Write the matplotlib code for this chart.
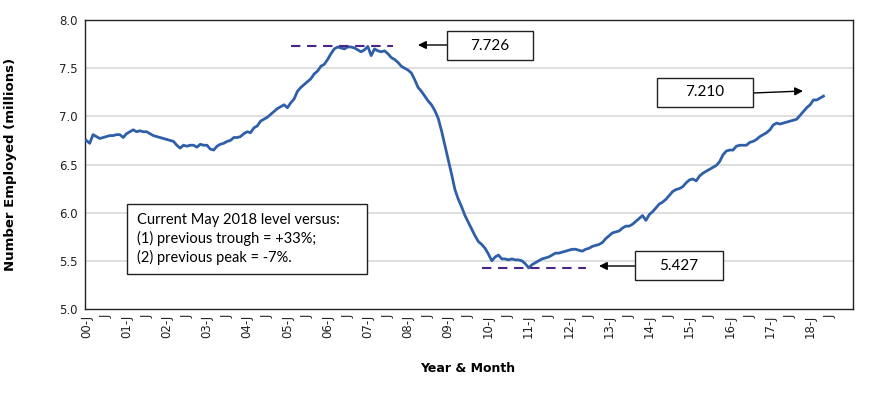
import matplotlib
matplotlib.use("Agg")
import matplotlib.pyplot as plt
from matplotlib.patches import Rectangle
import numpy as np

# monthly employment (millions), Jan 2000 .. May 2018
employed = [
    6.75, 6.72, 6.81, 6.79, 6.77, 6.78, 6.79, 6.80, 6.80, 6.81, 6.81, 6.78,  # 2000
    6.82, 6.84, 6.86, 6.84, 6.85, 6.84, 6.84, 6.82, 6.80, 6.79, 6.78, 6.77,  # 2001
    6.76, 6.75, 6.74, 6.70, 6.67, 6.70, 6.69, 6.70, 6.70, 6.68, 6.71, 6.70,  # 2002
    6.70, 6.66, 6.65, 6.69, 6.71, 6.72, 6.74, 6.75, 6.78, 6.78, 6.79, 6.82,  # 2003
    6.84, 6.83, 6.88, 6.90, 6.95, 6.97, 6.99, 7.02, 7.05, 7.08, 7.10, 7.12,  # 2004
    7.09, 7.14, 7.18, 7.26, 7.30, 7.33, 7.36, 7.39, 7.44, 7.47, 7.52, 7.54,  # 2005
    7.59, 7.65, 7.70, 7.72, 7.71, 7.70, 7.72, 7.72, 7.71, 7.69, 7.67, 7.69,  # 2006
    7.726, 7.63, 7.70, 7.68, 7.67, 7.68, 7.65, 7.61, 7.59, 7.56, 7.52, 7.50,  # 2007
    7.48, 7.45, 7.38, 7.30, 7.26, 7.21, 7.16, 7.12, 7.06, 6.98, 6.85, 6.70,  # 2008
    6.55, 6.40, 6.24, 6.14, 6.06, 5.97, 5.90, 5.83, 5.76, 5.70, 5.67, 5.63,  # 2009
    5.57, 5.50, 5.54, 5.56, 5.52, 5.52, 5.51, 5.52, 5.51, 5.51, 5.50, 5.47,  # 2010
    5.427, 5.46, 5.48, 5.50, 5.52, 5.53, 5.54, 5.56, 5.58, 5.58, 5.59, 5.60,  # 2011
    5.61, 5.62, 5.62, 5.61, 5.60, 5.62, 5.63, 5.65, 5.66, 5.67, 5.69, 5.73,  # 2012
    5.76, 5.79, 5.80, 5.81, 5.84, 5.86, 5.86, 5.88, 5.91, 5.94, 5.97, 5.92,  # 2013
    5.98, 6.01, 6.05, 6.09, 6.11, 6.14, 6.18, 6.22, 6.24, 6.25, 6.27, 6.31,  # 2014
    6.34, 6.35, 6.33, 6.38, 6.41, 6.43, 6.45, 6.47, 6.49, 6.53, 6.60, 6.64,  # 2015
    6.65, 6.65, 6.69, 6.70, 6.70, 6.70, 6.73, 6.74, 6.76, 6.79, 6.81, 6.83,  # 2016
    6.86, 6.91, 6.93, 6.92, 6.93, 6.94, 6.95, 6.96, 6.97, 7.01, 7.05, 7.09,  # 2017
    7.12, 7.17, 7.17, 7.19, 7.210,                                           # 2018
]

tick_labels = []
for yr in range(0, 19):
    tick_labels += ["%02d-J" % yr, "J"]

peak_span = [61, 91.5]      # months covered by dashed peak line
trough_span = [118, 149]    # months covered by dashed trough line

note_text = ("Current May 2018 level versus:\n"
             "(1) previous trough = +33%;\n"
             "(2) previous peak = -7%.")

W, H = 870, 398
fig = plt.figure(figsize=(W / 100, H / 100), dpi=100)
ax = fig.add_axes([85 / W, 1 - 309 / H, (853 - 85) / W, (309 - 20) / H])

months = np.arange(len(employed))
vals = np.array(employed)
peak = vals.max()
trough = vals.min()
latest = vals[-1]

for v in [5.5, 6.0, 6.5, 7.0, 7.5]:
    ax.axhline(v, color="#d9d9d9", lw=1.2, zorder=0)

ax.plot(months, vals, color="#2f5fa8", lw=2.0, zorder=3, solid_joinstyle="round")

purple = "#4b2585"
ax.plot(peak_span, [peak, peak], color=purple, lw=1.5, ls=(0, (4.5, 3.2)), zorder=4)
ax.plot(trough_span, [trough, trough], color=purple, lw=1.5, ls=(0, (4.5, 3.2)), zorder=4)

ax.set_xlim(-0.4, 228.8)
ax.set_ylim(5.0, 8.0)
ax.set_yticks(np.arange(5.0, 8.01, 0.5))
ax.set_yticklabels(["%.1f" % t for t in np.arange(5.0, 8.01, 0.5)])
ax.set_xticks(np.arange(0, 6 * len(tick_labels), 6))
ax.set_xticklabels(tick_labels, rotation=90)

tickfont = ["Liberation Sans Narrow", "DejaVu Sans"]
for lab in ax.get_yticklabels():
    lab.set_fontfamily(tickfont)
    lab.set_fontsize(8.5)
for lab in ax.get_xticklabels():
    lab.set_fontfamily(tickfont)
    lab.set_fontsize(8.5)
ax.tick_params(axis="both", length=0, pad=5, colors="#222222")
ax.tick_params(axis="x", pad=4)
for sp in ax.spines.values():
    sp.set_color("#222222")
    sp.set_linewidth(1.0)

ax.set_ylabel("Number Employed (millions)", fontsize=9.5, fontweight="bold",
              family=["DejaVu Sans"])
ax.yaxis.set_label_coords((17 - 85) / (853 - 85), 0.5)
fig.text(468 / W, 1 - 368 / H, "Year & Month", ha="center", va="center",
         fontsize=9, fontweight="bold", family=["DejaVu Sans"])


def px_box(x0, y0, x1, y1, text, fs=11):
    # box given in figure pixels, y measured from the top
    r = Rectangle((x0 / W, 1 - y1 / H), (x1 - x0) / W, (y1 - y0) / H,
                  transform=fig.transFigure, facecolor="white",
                  edgecolor="#222222", lw=1.0, zorder=5)
    fig.patches.append(r)
    fig.text((x0 + x1) / 2 / W, 1 - (y0 + y1) / 2 / H, text, ha="center",
             va="center", fontsize=fs, family=["Lato", "DejaVu Sans"], zorder=6)


def px_arrow(x0, y0, x1, y1):
    ax.annotate("", xy=(x1 / W, 1 - y1 / H), xytext=(x0 / W, 1 - y0 / H),
                xycoords="figure fraction", textcoords="figure fraction",
                arrowprops=dict(arrowstyle="-|>", color="black", lw=1.0,
                                mutation_scale=12, shrinkA=0, shrinkB=0))


px_box(447, 31, 533, 60, "%.3f" % peak)
px_arrow(447, 45, 418, 45)
px_box(635, 251, 723, 280, "%.3f" % trough)
px_arrow(635, 266, 599, 266)
px_box(657, 78, 753, 107, "%.3f" % latest)
px_arrow(753, 93, 803, 91)

nr = Rectangle((127 / W, 1 - 274 / H), (367 - 127) / W, (274 - 204) / H,
               transform=fig.transFigure, facecolor="white",
               edgecolor="#222222", lw=1.0, zorder=5)
fig.patches.append(nr)
fig.text(137 / W, 1 - 239 / H, note_text, ha="left", va="center", fontsize=10.5,
         family=["Lato", "DejaVu Sans"], linespacing=1.3, zorder=6)

fig.savefig("out.png", dpi=100)
